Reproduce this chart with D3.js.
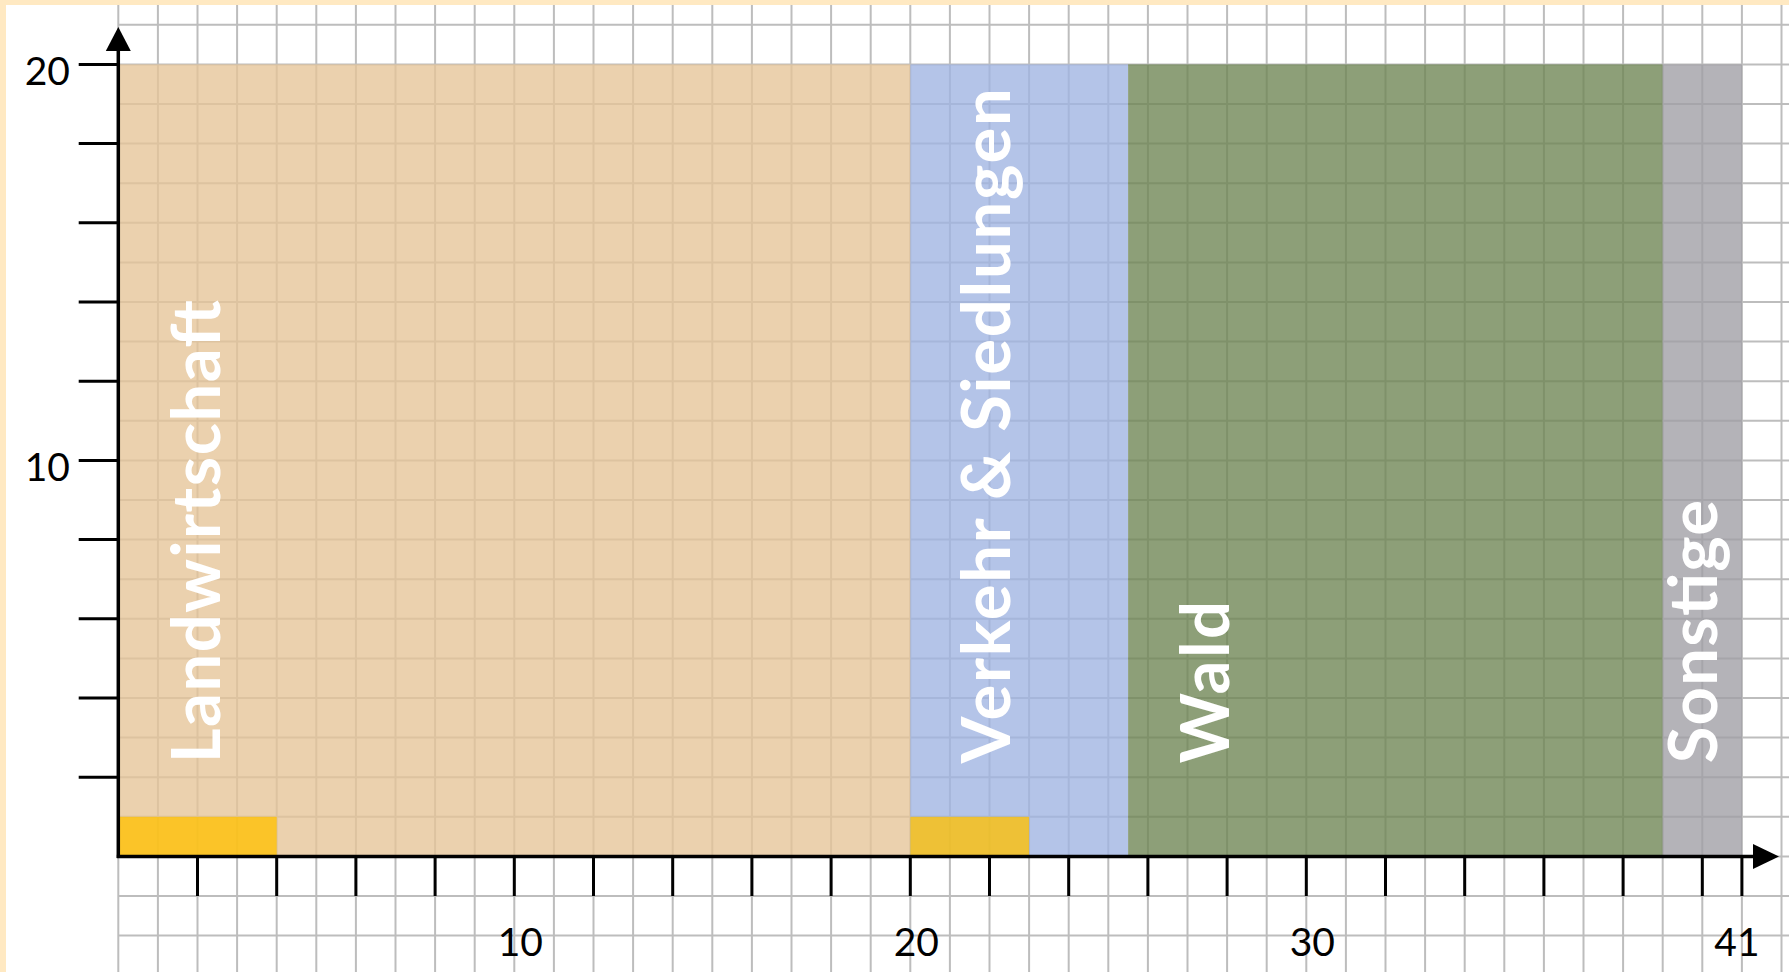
<!DOCTYPE html>
<html lang="de">
<head>
<meta charset="utf-8">
<title>Flächennutzung</title>
<script src="https://cdn.jsdelivr.net/npm/d3@7"></script>
<style>
  html, body { margin: 0; padding: 0; background: #ffffff; }
  svg { display: block; }
  text { font-family: Lato, "Open Sans", "DejaVu Sans", sans-serif; }
</style>
</head>
<body>
<svg id="chart" width="1789" height="972"></svg>
<script>
// Land-use categories, laid out as consecutive column blocks (width in grid units)
const categories = ["Landwirtschaft", "Verkehr & Siedlungen", "Wald", "Sonstige"];
const widths     = [20, 5.5, 13.5, 2];
const heights    = [20, 20, 20, 20];
const fills      = ["#e5c497", "#9fb3e1", "#6d8452", "#9f9ea4"];

// Highlighted strips along the bottom row: [start, end] in x units, height in y units
const highlightStart  = [0, 20];
const highlightEnd    = [4, 23];
const highlightHeight = [1, 1];

// Axis ticks and labels
const xTicks      = [2, 4, 6, 8, 10, 12, 14, 16, 18, 20, 22, 24, 26, 28, 30, 32, 34, 36, 38, 40, 41];
const xTickLabels = [10, 20, 30, 41];
const yTicks      = [2, 4, 6, 8, 10, 12, 14, 16, 18, 20];
const yTickLabels = [10, 20];

const W = 1789, H = 972;
const svg = d3.select("#chart");

const x = d3.scaleLinear().domain([0, 41]).range([118.3, 1741.9]);
const y = d3.scaleLinear().domain([0, 20]).range([856.4, 64.4]);
const unit = x(1) - x(0);

// cream frame on the top and left
svg.append("rect").attr("x", 0).attr("y", 0).attr("width", W).attr("height", H).attr("fill", "#ffe9c2");
svg.append("rect").attr("x", 6).attr("y", 5).attr("width", W - 6).attr("height", H - 5).attr("fill", "#ffffff");

// squared paper grid (right of the y axis, below the frame)
const grid = svg.append("g").attr("stroke", "#bdbdbd").attr("stroke-width", 2);
grid.selectAll("line.v").data(d3.range(0, 43)).join("line")
  .attr("class", "v")
  .attr("x1", d => x(d)).attr("x2", d => x(d))
  .attr("y1", 5).attr("y2", H);
grid.selectAll("line.h").data(d3.range(-3, 22)).join("line")
  .attr("class", "h")
  .attr("x1", x(0)).attr("x2", W)
  .attr("y1", d => y(d)).attr("y2", d => y(d));

// category blocks, translucent so the grid shows through
const starts = widths.map((w, i) => d3.sum(widths.slice(0, i)));
const blocks = categories.map((c, i) => ({ name: c, x0: starts[i], x1: starts[i] + widths[i], h: heights[i], fill: fills[i] }));

svg.append("g").selectAll("rect").data(blocks).join("rect")
  .attr("x", d => x(d.x0))
  .attr("y", d => y(d.h))
  .attr("width", d => x(d.x1) - x(d.x0))
  .attr("height", d => y(0) - y(d.h))
  .attr("fill", d => d.fill)
  .attr("fill-opacity", 0.78);

// gold strips
svg.append("g").selectAll("rect").data(highlightStart.map((s, i) => ({ x0: s, x1: highlightEnd[i], h: highlightHeight[i] }))).join("rect")
  .attr("x", d => x(d.x0))
  .attr("y", d => y(d.h))
  .attr("width", d => x(d.x1) - x(d.x0))
  .attr("height", d => y(0) - y(d.h))
  .attr("fill", "#ffc000")
  .attr("fill-opacity", 0.77);

// vertical category names (offset from block edge and run length in grid units)
const labelOffset = [2.57, 2.52, 2.55, 1.36];
const labelLength = [11.7, 17.05, 4.1, 6.65];
svg.append("g").selectAll("text").data(blocks).join("text")
  .attr("transform", (d, i) => `translate(${x(d.x0 + labelOffset[i])},${y(2.35)}) rotate(-90)`)
  .attr("text-anchor", "start")
  .attr("fill", "#ffffff")
  .attr("font-weight", 700)
  .attr("font-size", 67)
  .attr("textLength", (d, i) => labelLength[i] * unit)
  .attr("lengthAdjust", "spacing")
  .text(d => d.name);

// axes
const axes = svg.append("g").attr("stroke", "#000").attr("stroke-width", 3.5).attr("fill", "none");
axes.append("line").attr("x1", x(0)).attr("x2", x(0)).attr("y1", y(0) + 1.5).attr("y2", 48);
axes.append("line").attr("x1", x(0) - 1.5).attr("x2", 1758).attr("y1", y(0)).attr("y2", y(0));

svg.append("path")
  .attr("d", `M${x(0)},27 L${x(0) + 12.5},51 L${x(0) - 12.5},51 Z`)
  .attr("fill", "#000");
svg.append("path")
  .attr("d", `M1779,${y(0)} L1753,${y(0) - 12.5} L1753,${y(0) + 12.5} Z`)
  .attr("fill", "#000");

// tick marks
const ticks = svg.append("g").attr("stroke", "#000").attr("stroke-width", 3);
ticks.selectAll("line.xt").data(xTicks).join("line")
  .attr("class", "xt")
  .attr("x1", d => x(d)).attr("x2", d => x(d))
  .attr("y1", y(0)).attr("y2", y(0) + unit);
ticks.selectAll("line.yt").data(yTicks).join("line")
  .attr("class", "yt")
  .attr("x1", x(0) - unit).attr("x2", x(0))
  .attr("y1", d => y(d)).attr("y2", d => y(d));

// tick labels
svg.append("g").selectAll("text").data(xTickLabels).join("text")
  .attr("x", d => x(d) + (d === 41 ? -5 : 6))
  .attr("y", y(0) + 100)
  .attr("text-anchor", "middle")
  .attr("font-size", 39)
  .attr("fill", "#000")
  .text(d => d);

svg.append("g").selectAll("text").data(yTickLabels).join("text")
  .attr("x", 70)
  .attr("y", d => y(d) + 21)
  .attr("text-anchor", "end")
  .attr("font-size", 39)
  .attr("fill", "#000")
  .text(d => d);
</script>
</body>
</html>
